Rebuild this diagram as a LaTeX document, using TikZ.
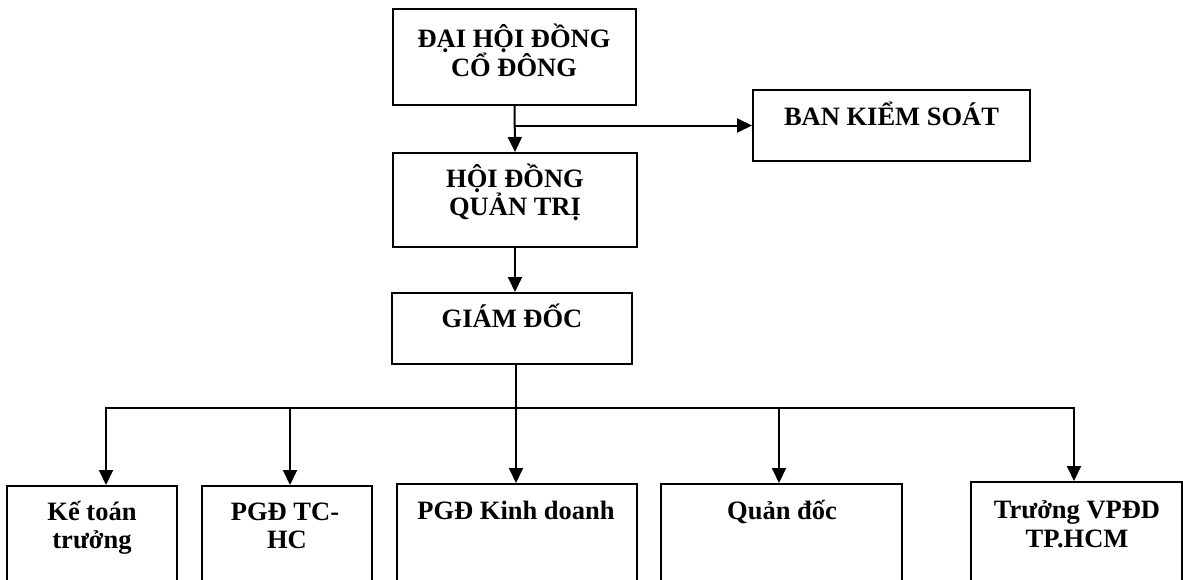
\documentclass[tikz,border=0pt]{standalone}
\usepackage{fontspec}
\setmainfont{Liberation Serif}
\usetikzlibrary{arrows.meta}
\begin{document}
\begin{tikzpicture}[x=1pt,y=-1pt,
  box/.style={draw,line width=2pt,inner sep=0pt},
  lbl/.style={font=\bfseries\fontsize{26.5}{28}\selectfont,inner sep=0pt,anchor=base},
  arr/.style={line width=2pt,-{Triangle[length=15pt,width=14pt]}},
  ln/.style={line width=2pt,line cap=rect}]
\clip (0,0) rectangle (1183,579);
\fill[white] (0,0) rectangle (1183,579);
% boxes
\node[box,minimum width=243pt,minimum height=96pt] (dh) at (514.5,57) {};
\node[box,minimum width=277pt,minimum height=71pt] (bks) at (891.5,125.5) {};
\node[box,minimum width=244pt,minimum height=94pt] (hd) at (515,200) {};
\node[box,minimum width=240pt,minimum height=71pt] (gd) at (512,328.5) {};
\node[box,minimum width=170pt,minimum height=104pt] (k1) at (92,538) {};
\node[box,minimum width=170pt,minimum height=104pt] (k2) at (287,538) {};
\node[box,minimum width=240pt,minimum height=106pt] (k3) at (517,537) {};
\node[box,minimum width=241pt,minimum height=106pt] (k4) at (781.5,537) {};
\node[box,minimum width=211pt,minimum height=108pt] (k5) at (1076.5,536) {};
% texts
\node[lbl] (t1a) at (514,47) {ĐẠI HỘI ĐỒNG};
\node[lbl] (t1b) at (514,76) {CỔ ĐÔNG};
\node[lbl] (tbks) at (891.5,125) {BAN KIỂM SOÁT};
\node[lbl] (thd1) at (515,187) {HỘI ĐỒNG};
\node[lbl] (thd2) at (515,215) {QUẢN TRỊ};
\node[lbl] (tgd) at (512,327) {GIÁM ĐỐC};
\node[lbl] (tk1a) at (92,520) {Kế toán};
\node[lbl] (tk1b) at (92,548) {trưởng};
\node[lbl] (tk2a) at (285,520) {PGĐ TC-};
\node[lbl] (tk2b) at (287,548) {HC};
\node[lbl] (tk3) at (516,519) {PGĐ Kinh doanh};
\node[lbl] (tk4) at (782,519) {Quản đốc};
\node[lbl] (tk5a) at (1077,518) {Trưởng VPĐD};
\node[lbl] (tk5b) at (1077,547) {TP.HCM};
% connectors
\draw[arr] (dh.south) -- (hd.north);
\coordinate (br) at (dh.south |- bks.west);
\draw[arr] (br) -- (bks.west);
\draw[arr] (hd.south) -- (hd.south |- gd.north);
\coordinate (bus) at (516,408);
\coordinate (b1) at (106,408);
\coordinate (b2) at (290,408);
\coordinate (b4) at (779,408);
\coordinate (b5) at (1074,408);
\draw[ln] (bus |- gd.south) -- (bus);
\draw[ln] (b1) -- (b5);
\draw[arr] (b1) -- (b1 |- k1.north);
\draw[arr] (b2) -- (b2 |- k2.north);
\draw[arr] (bus) -- (bus |- k3.north);
\draw[arr] (b4) -- (b4 |- k4.north);
\draw[arr] (b5) -- (b5 |- k5.north);
\end{tikzpicture}
\end{document}
